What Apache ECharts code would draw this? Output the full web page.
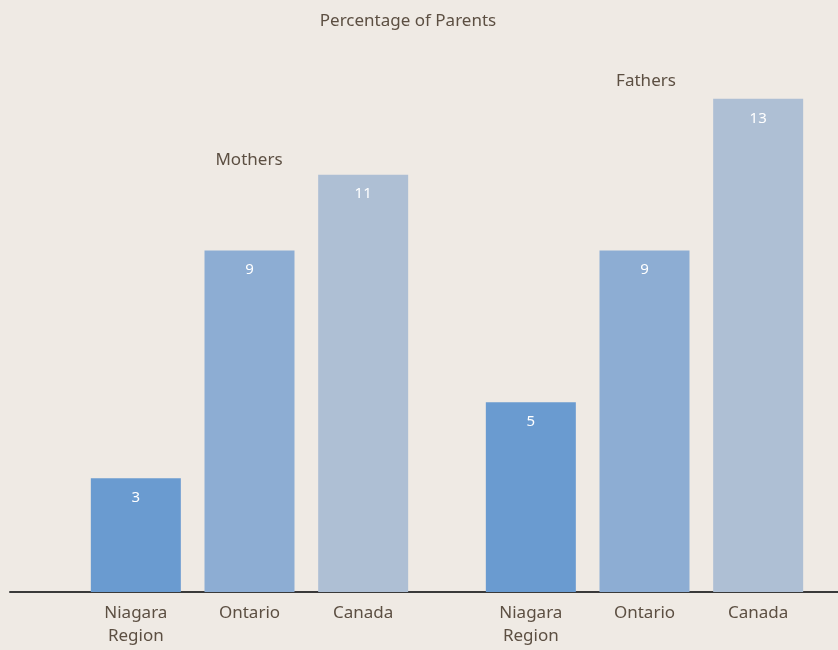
<!DOCTYPE html>
<html>
<head>
<meta charset="utf-8">
<script src="https://cdn.jsdelivr.net/npm/echarts@6/dist/echarts.min.js"></script>
<style>
    html, body { margin: 0; padding: 0; background: #efeae4; }
    #main { width: 838px; height: 650px; }
</style>
</head>
<body>
<div id="main"></div>
<script>
var categories = ['Niagara\nRegion', 'Ontario', 'Canada'];
var mothers = [3, 9, 11];
var fathers = [5, 9, 13];
var barColors = ['#6a9bd0', '#8dadd3', '#aebfd4'];
var textColor = '#5c4f42';
var font = 'Noto Sans';

var chart = (function () {
    var makeX = function (idx) {
        return {
            type: 'category',
            gridIndex: idx,
            data: categories,
            axisLine: { show: false },
            axisTick: { show: false },
            axisLabel: {
                color: textColor,
                fontSize: 17,
                fontFamily: font,
                lineHeight: 23,
                margin: 10
            }
        };
    };
    var makeY = function (idx) {
        return {
            type: 'value',
            gridIndex: idx,
            min: 0,
            max: 15,
            show: false
        };
    };
    var makeBars = function (idx, values) {
        return {
            type: 'bar',
            xAxisIndex: idx,
            yAxisIndex: idx,
            barWidth: 90,
            data: values.map(function (v, i) {
                return { value: v, itemStyle: { color: barColors[i] } };
            }),
            label: {
                show: true,
                position: 'insideTop',
                distance: 12,
                color: '#fff',
                fontSize: 15,
                fontFamily: font
            }
        };
    };
    var titleStyle = { color: textColor, fontSize: 17, fontWeight: 'normal', fontFamily: font };
    var init = function () {
        var myChart = echarts.init(document.getElementById('main'));
        var option = {
            backgroundColor: '#efeae4',
            animation: false,
            title: [
                { text: 'Percentage of Parents', left: 403, textAlign: 'center', top: 8, textStyle: titleStyle },
                { text: 'Mothers', left: 244, textAlign: 'center', top: 147, textStyle: titleStyle },
                { text: 'Fathers', left: 641, textAlign: 'center', top: 68, textStyle: titleStyle }
            ],
            grid: [
                { left: 79, width: 341, top: 23, bottom: 58 },
                { left: 474, width: 341, top: 23, bottom: 58 },
                { left: 10, right: 0, top: 23, bottom: 58 }
            ],
            xAxis: [
                makeX(0),
                makeX(1),
                {
                    type: 'value',
                    gridIndex: 2,
                    min: 0,
                    max: 1,
                    axisLine: { show: true, onZero: false, lineStyle: { color: '#3a3a3a', width: 2 } },
                    axisTick: { show: false },
                    axisLabel: { show: false },
                    splitLine: { show: false }
                }
            ],
            yAxis: [makeY(0), makeY(1), makeY(2)],
            series: [makeBars(0, mothers), makeBars(1, fathers)]
        };
        myChart.setOption(option);
    };
    return { init: init };
})();

chart.init();
</script>
</body>
</html>
